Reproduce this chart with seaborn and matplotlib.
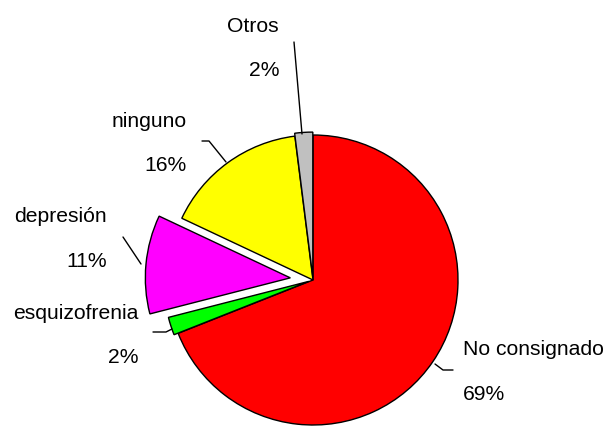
import matplotlib
matplotlib.use("Agg")
import matplotlib.pyplot as plt
import seaborn as sns

# Diagnósticos previos registrados
categories = ["No consignado", "esquizofrenia", "depresión", "ninguno", "Otros"]
percentages = [69, 2, 11, 16, 2]
slice_colors = ["#FF0000", "#00FF00", "#FF00FF", "#FFFF00", "#C0C0C0"]

sns.set_style("white")
plt.rcParams["font.family"] = ["Liberation Sans", "DejaVu Sans"]

W, H, DPI = 607, 427, 100
fig = plt.figure(figsize=(W / DPI, H / DPI), dpi=DPI)
ax = fig.add_axes([0, 0, 1, 1])

# pixel geometry of the pie: centre and radius
CX, CY, R = 313, 281, 145


def to_data(px, py):
    return (px - CX) / R, (CY - py) / R


explode = [0.0, 0.03, 0.157, 0.0, 0.02]
wedges, _ = ax.pie(
    percentages,
    colors=slice_colors,
    explode=explode,
    startangle=90,
    counterclock=False,
    radius=1.0,
    wedgeprops=dict(edgecolor="black", linewidth=1.0),
)

# label layout: (name baseline x/y, percent baseline y, alignment, leader polyline)
label_layout = {
    "No consignado": dict(x=463, y1=355, y2=400, ha="left",
                          line=[(435, 365), (443, 371), (453, 371)]),
    "esquizofrenia": dict(x=138, y1=319, y2=363, ha="right",
                          line=[(153, 333), (166, 333), (172, 330)]),
    "depresión": dict(x=107, y1=222, y2=267, ha="right",
                      line=[(123, 238), (141, 265)]),
    "ninguno": dict(x=187, y1=127, y2=171, ha="right",
                    line=[(202, 142), (209, 142), (226, 163)]),
    "Otros": dict(x=279, y1=32, y2=76, ha="right",
                  line=[(294, 43), (302, 135)]),
}

for name, val in zip(categories, percentages):
    lay = label_layout[name]
    x, y1 = to_data(lay["x"], lay["y1"])
    _, y2 = to_data(lay["x"], lay["y2"])
    ax.text(x, y1, name, ha=lay["ha"], va="baseline", fontsize=15.2, color="black")
    ax.text(x, y2, f"{val}%", ha=lay["ha"], va="baseline", fontsize=15.2, color="black")
    pts = [to_data(px, py) for px, py in lay["line"]]
    ax.plot([p[0] for p in pts], [p[1] for p in pts], color="black", lw=1.0)

ax.set_xlim(-CX / R, (W - CX) / R)
ax.set_ylim(-(H - CY) / R, CY / R)
ax.set_aspect("equal")
ax.axis("off")

fig.savefig("out.png", dpi=DPI, facecolor="white")
